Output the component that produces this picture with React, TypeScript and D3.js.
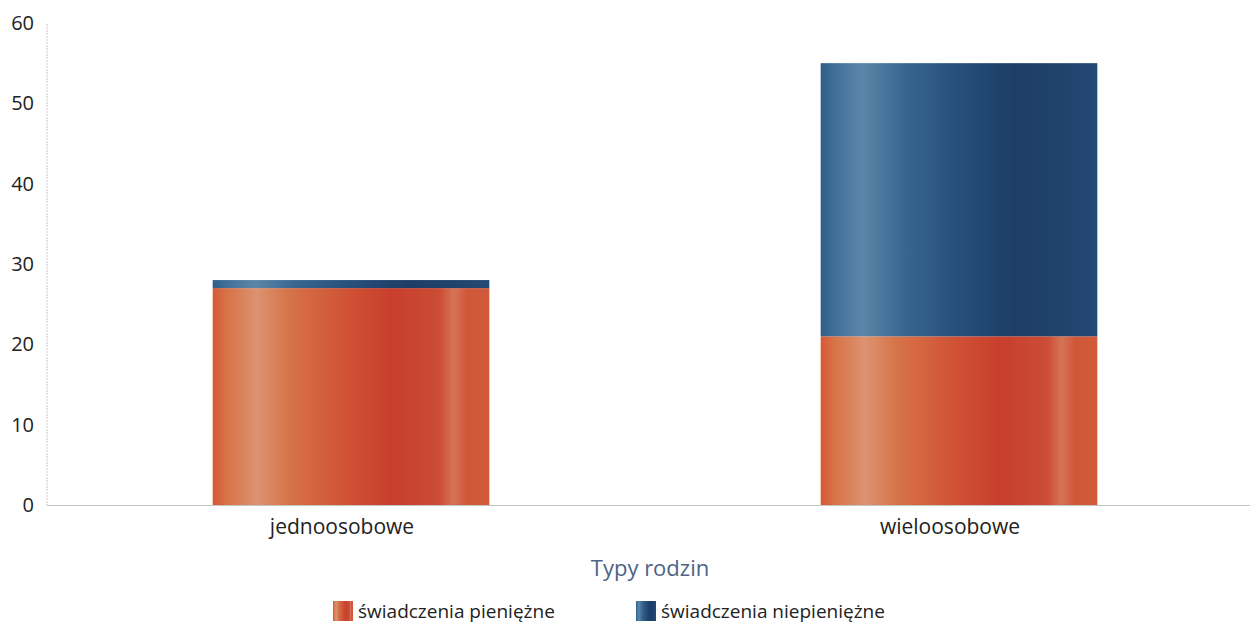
import React from "react";
import * as d3 from "d3";

const categories = ["jednoosobowe", "wieloosobowe"];
const pieniezne = [27, 21];
const niepieniezne = [1, 34];
const seriesNames = ["świadczenia pieniężne", "świadczenia niepieniężne"];
const yTicks = [0, 10, 20, 30, 40, 50, 60];

export default function App() {
  const W = 1256, H = 628;
  const y = d3.scaleLinear().domain([0, 60]).range([505, 23]);
  const x = d3.scaleBand().domain(categories).range([47, 1263]).padding(0);
  const barW = x.bandwidth() * 0.455;
  const stacks = categories.map((c, i) => ({ c, a: pieniezne[i], b: niepieniezne[i] }));
  return (
    <svg width={W} height={H} style={{ position: "absolute", left: 0, top: 0, fontFamily: "'Open Sans', sans-serif" }}>
      <defs>
        <linearGradient id="gOr" x1="0" x2="1" y1="0" y2="0">
          <stop offset="0" stopColor="#d45a36" />
          <stop offset="0.05" stopColor="#d87248" />
          <stop offset="0.16" stopColor="#dc9370" />
          <stop offset="0.28" stopColor="#d67248" />
          <stop offset="0.5" stopColor="#cf5034" />
          <stop offset="0.65" stopColor="#c83f2d" />
          <stop offset="0.82" stopColor="#cc4c34" />
          <stop offset="0.87" stopColor="#d57458" />
          <stop offset="0.92" stopColor="#cf5839" />
          <stop offset="1" stopColor="#d05a3a" />
        </linearGradient>
        <linearGradient id="gBl" x1="0" x2="1" y1="0" y2="0">
          <stop offset="0" stopColor="#2f5f88" />
          <stop offset="0.06" stopColor="#43729a" />
          <stop offset="0.15" stopColor="#5b86a8" />
          <stop offset="0.3" stopColor="#386690" />
          <stop offset="0.5" stopColor="#264f7a" />
          <stop offset="0.7" stopColor="#1c3d66" />
          <stop offset="0.85" stopColor="#1f426b" />
          <stop offset="1" stopColor="#234a74" />
        </linearGradient>
      </defs>
      <line x1={47} x2={47} y1={24} y2={505} stroke="#c8c8c8" strokeWidth={1} strokeDasharray="2,1" />
      <line x1={47} x2={1250} y1={505.5} y2={505.5} stroke="#c4c4c4" strokeWidth={1} />
      {yTicks.map((t) => (
        <text key={t} x={34} y={y(t)} dy="0.35em" textAnchor="end" fontSize={20} fill="#222">{t}</text>
      ))}
      {stacks.map((s) => {
        const cx = (x(s.c) as number) + x.bandwidth() / 2;
        const x0 = cx - barW / 2;
        return (
          <g key={s.c}>
            <rect x={x0} y={y(s.a)} width={barW} height={y(0) - y(s.a)} fill="url(#gOr)" />
            <rect x={x0} y={y(s.a + s.b)} width={barW} height={y(s.a) - y(s.a + s.b)} fill="url(#gBl)" />
            <text x={cx - 9} y={527} dy="0.35em" textAnchor="middle" fontSize={21} fill="#222">{s.c}</text>
          </g>
        );
      })}
      <text x={650} y={568} dy="0.35em" textAnchor="middle" fontSize={22} fill="#4d6486">Typy rodzin</text>
      <rect x={333} y={601} width={20} height={20} fill="url(#gOr)" />
      <text x={358} y={611} dy="0.35em" fontSize={19} fill="#222">{seriesNames[0]}</text>
      <rect x={636} y={601} width={20} height={20} fill="url(#gBl)" />
      <text x={661} y={611} dy="0.35em" fontSize={19} fill="#222">{seriesNames[1]}</text>
    </svg>
  );
}
